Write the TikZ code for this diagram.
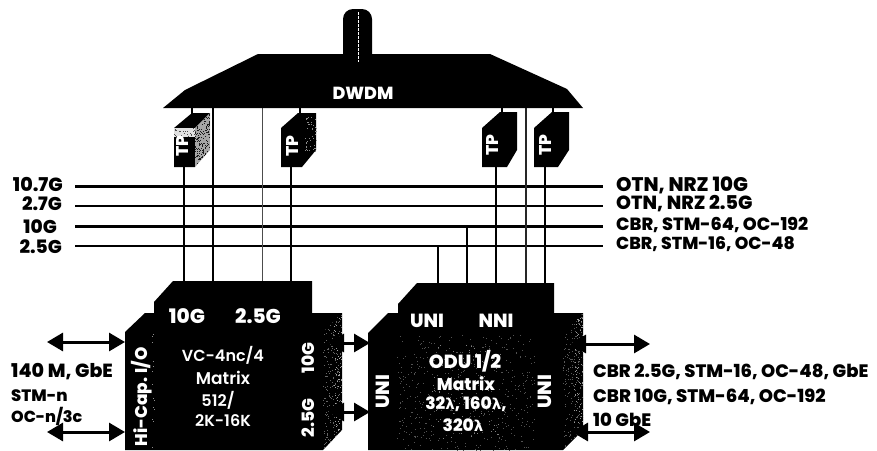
\documentclass[tikz,border=0pt]{standalone}
\usepackage{fontspec}
\setmainfont{Poppins}[BoldFont={* ExtraBold}]
\newfontfamily\gk{DejaVu Sans}
\newfontfamily\medf{Poppins SemiBold}
\usetikzlibrary{arrows.meta}
\newcommand{\speckle}[6]{% x0 x1 y0 y1 n colour
  \foreach \i in {1,...,#5}{%
    \pgfmathsetmacro{\sx}{#1+rnd*(#2-#1)}%
    \pgfmathsetmacro{\sy}{#3+rnd*(#4-#3)}%
    \fill[#6] (\sx,\sy) rectangle ++(1,1);}}
\newcommand{\lam}{{\gk\bfseries\fontsize{15}{15}\selectfont λ}}
\tikzset{
  x=1pt,y=-1pt,
  bus/.style={line width=2.6pt,black},
  drop/.style={line width=2.2pt,black},
  faint/.style={line width=1pt,black!70},
  dbl/.style={line width=3pt,black,{Triangle[width=18pt,length=16pt]}-{Triangle[width=18pt,length=16pt]}},
  fs/.style={font=\bfseries\fontsize{#1}{#1}\selectfont},
  fm/.style={font=\medf\fontsize{#1}{#1}\selectfont},
  lbl/.style={text=black,inner sep=0pt},
  lbll/.style={lbl,anchor=west},
  lblr/.style={lbl,anchor=east},
  wht/.style={text=white,inner sep=0pt},
  rot/.style={rotate=90}
}
\begin{document}
\begin{tikzpicture}
\pgfmathsetseed{4242}
\useasboundingbox (0,0) rectangle (877,450);
\clip (0,0) rectangle (877,450);
% named points
\foreach \n/\y in {a/186.5,b/206,c/226.5,d/246}{
  \coordinate (\n L) at (75,\y);
  \coordinate (\n R) at (603,\y);
}
\coordinate (v1t) at (184,167); \coordinate (v1b) at (184,282);
\coordinate (v2t) at (213,108); \coordinate (v2b) at (213,282);
\coordinate (v3t) at (262,108); \coordinate (v3b) at (262,282);
\coordinate (v4t) at (291,167); \coordinate (v4b) at (291,282);
\coordinate (v5t) at (438,246); \coordinate (v5b) at (438,284);
\coordinate (v6t) at (467,226.5); \coordinate (v6b) at (467,284);
\coordinate (v7t) at (496,167); \coordinate (v7b) at (496,284);
\coordinate (v8t) at (526,108); \coordinate (v8b) at (526,284);
\coordinate (v9t) at (545,167); \coordinate (v9b) at (545,284);
\coordinate (t1a) at (192,108); \coordinate (t1b) at (192,114);
\coordinate (t2a) at (300,108); \coordinate (t2b) at (300,114);
\coordinate (t3a) at (502,108); \coordinate (t3b) at (502,114);
\coordinate (t4a) at (553,108); \coordinate (t4b) at (553,114);
\coordinate (la1) at (47,342);  \coordinate (la2) at (125,342);
\coordinate (lb1) at (47,432);  \coordinate (lb2) at (125,432);
\coordinate (ma1) at (328,343); \coordinate (ma2) at (370,343);
\coordinate (mb1) at (328,412); \coordinate (mb2) at (370,412);
\coordinate (ra1) at (570,344); \coordinate (ra2) at (650,344);
\coordinate (rb1) at (572,432); \coordinate (rb2) at (650,432);
% buses
\foreach \n in {a,b,c,d}{\draw[bus] (\n L) -- (\n R);}
% drops
\foreach \n in {1,2,4,5,6,7,9}{\draw[drop] (v\n t) -- (v\n b);}
\draw[faint] (v3t) -- (v3b);
\draw[line width=1.5pt,black!85] (v8t) -- (v8b);
\foreach \n in {1,2,3,4}{\draw[drop] (t\n a) -- (t\n b);}
% antenna
\fill[black,rounded corners=10pt] (343,70) -- (343,9) -- (372,9) -- (372,70) -- cycle;
% DWDM
\fill[black] (258,54) -- (490,54) -- (567,89) -- (583,108) -- (163,108) -- (185,90) -- cycle;
\draw[white,line width=1pt,dash pattern=on 3pt off 1pt] (358,12) -- (358,62);
\node[wht,fs=17.5] (dwdm) at (363,93) {DWDM};
% TP boxes
\fill[black] (174,128) -- (192,113) -- (210,113) -- (195,128) -- (195,167) -- (174,167) -- cycle;
\begin{scope}
 \clip (195,128) -- (210,113) -- (210,150) -- (195,167) -- cycle;
 \fill[black!35] (190,110) rectangle (212,170);
 \speckle{194}{211}{112}{168}{260}{black!90}
\end{scope}
\fill[black!12] (174,128) rectangle (195,137);
\speckle{174}{195}{128}{137}{25}{black!70}
\fill[black] (281,128) -- (298,113) -- (316,113) -- (316,150) -- (302,167) -- (281,167) -- cycle;
\speckle{304}{316}{116}{152}{45}{black!45}
\fill[black] (482,128) -- (500,112) -- (517,112) -- (517,150) -- (507,167) -- (482,167) -- cycle;
\fill[black] (534,128) -- (552,112) -- (569,112) -- (569,150) -- (558,167) -- (534,167) -- cycle;
\node[wht,rot,fs=17] (tp1) at (183,146) {TP};
\node[wht,rot,fs=17] (tp2) at (293,146) {TP};
\node[wht,rot,fs=17] (tp3) at (492,145) {TP};
\node[wht,rot,fs=17] (tp4) at (545,145) {TP};
% left block
\fill[black] (173,281) -- (312,281) -- (312,320) -- (154,320) -- (154,302) -- cycle;
\fill[black] (125,332) -- (145,313) -- (342,313) -- (342,430) -- (323,450) -- (125,450) -- cycle;
\begin{scope}
 \clip (323,332) -- (342,313) -- (342,430) -- (323,450) -- cycle;
 \speckle{323}{343}{313}{450}{220}{black!60}
 \speckle{334}{343}{313}{440}{90}{black!35}
\end{scope}
\speckle{152}{154}{334}{450}{14}{black!45}
\node[wht,fs=20] (g10) at (187,316) {10G};
\node[wht,fs=20] (g25) at (258,316) {2.5G};
\node[wht,fm=16] (m1) at (223,355) {VC-4nc/4};
\node[wht,fm=17] (m2) at (223,378) {Matrix};
\node[wht,fm=16] (m3) at (218,400) {512/};
\node[wht,fm=16] (m4) at (223,421) {2K-16K};
\node[wht,rot,fs=17] (hi) at (142,397) {Hi-Cap. I/O};
\node[wht,rot,fs=17] (s10) at (308,358) {10G};
\node[wht,rot,fs=17] (s25) at (308,418) {2.5G};
% right block
\fill[black] (417,283) -- (554,283) -- (554,320) -- (398,320) -- (398,304) -- cycle;
\fill[black] (368,333) -- (388,313) -- (583,313) -- (583,430) -- (563,450) -- (368,450) -- cycle;
\speckle{397}{535}{335}{450}{480}{black!68}
\speckle{430}{500}{345}{440}{80}{black!50}
\begin{scope}
 \clip (563,333) -- (583,313) -- (583,430) -- (563,450) -- cycle;
 \speckle{563}{584}{313}{450}{230}{black!65}
 \speckle{574}{584}{313}{440}{90}{black!40}
\end{scope}
\node[wht,fs=19] (uni) at (427,321) {UNI};
\node[wht,fs=19] (nni) at (496,321) {NNI};
\node[wht,fs=19] (o1) at (465,361) {ODU 1/2};
\node[wht,fs=17] (o2) at (466,384) {Matrix};
\node[wht,fs=17] (o3) at (466,404) {32\lam, 160\lam,};
\node[wht,fs=17] (o4) at (463,425) {320\lam};
\node[wht,rot,fs=19] (u1) at (383,392) {UNI};
\node[wht,rot,fs=19] (u2) at (545,392) {UNI};
% arrows
\draw[dbl] (la1) -- (la2);
\draw[dbl] (lb1) -- (lb2);
\draw[dbl] (ma1) -- (ma2);
\draw[dbl] (mb1) -- (mb2);
\draw[dbl] (ra1) -- (ra2);
\draw[dbl] (rb1) -- (rb2);
% labels
\node[lblr,fs=19] (l1) at (63,184.5) {10.7G};
\node[lblr,fs=18.5] (l2) at (62,203.5) {2.7G};
\node[lblr,fs=18.5] (l3) at (57,227) {10G};
\node[lblr,fs=18.5] (l4) at (62,247) {2.5G};
\node[lbll,fs=19.7] (r1) at (616,185) {OTN, NRZ 10G};
\node[lbll,fs=19] (r2) at (616,204) {OTN, NRZ 2.5G};
\node[lbll,fs=17.7] (r3) at (616,224.5) {CBR, STM-64, OC-192};
\node[lbll,fs=17.3] (r4) at (616,244.5) {CBR, STM-16, OC-48};
\node[lbll,fs=19] (a1) at (11,372) {140 M, GbE};
\node[lbll,fs=16.5] (a2) at (11,396) {STM-n};
\node[lbll,fs=16] (a3) at (11,416) {OC-n/3c};
\node[lbll,fs=18] (b1) at (593,372) {CBR 2.5G, STM-16, OC-48, GbE};
\node[lbll,fs=18.1] (b2) at (593,397) {CBR 10G, STM-64, OC-192};
\node[lbll,fs=18] (b3) at (593,420) {10 GbE};
\end{tikzpicture}
\end{document}
